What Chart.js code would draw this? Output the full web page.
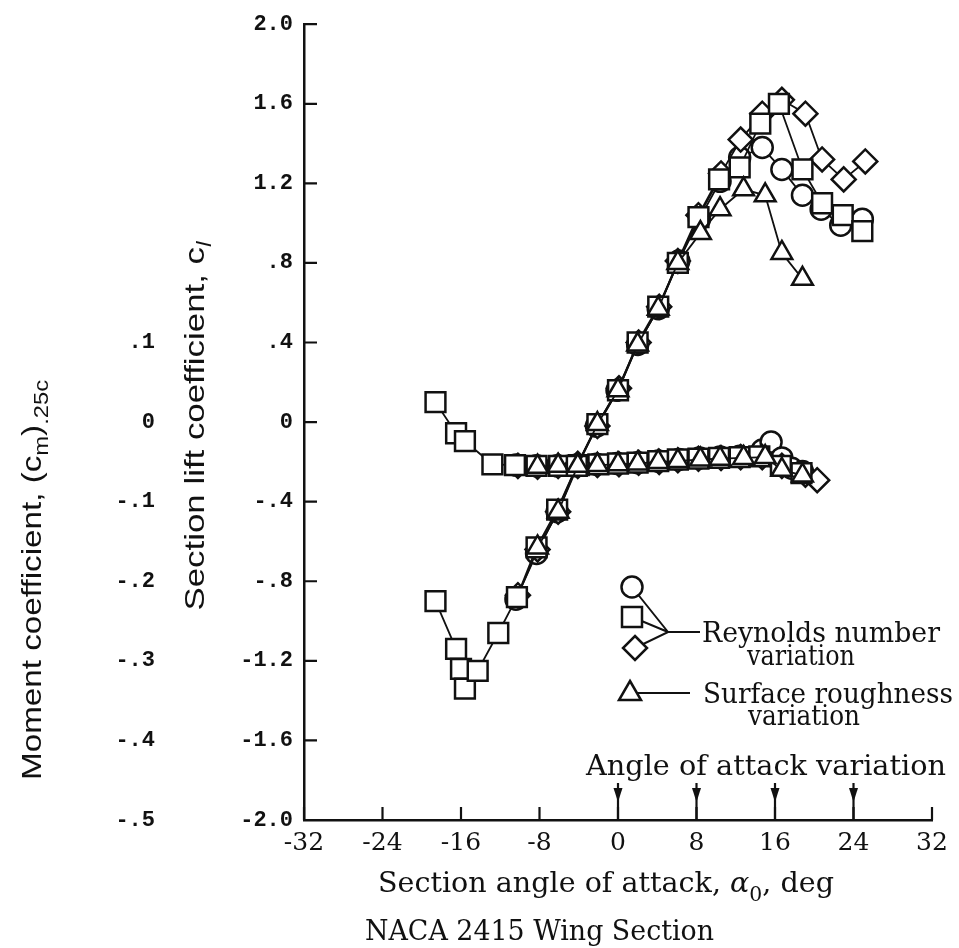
<!DOCTYPE html>
<html>
<head>
<meta charset="utf-8">
<script src="https://cdn.jsdelivr.net/npm/chart.js@4.4.1/dist/chart.umd.min.js"></script>
<style>
html, body { margin: 0; padding: 0; background: #fff; }
canvas { display: block; }
</style>
</head>
<body>
<canvas id="chart" width="959" height="948"></canvas>
<script>
// ---- data ----
// lift coefficient vs section angle of attack (deg)
const circleAlpha   = [-10.4, -8.3, -6.2, -4.2, -2.2, -0.1, 2.0, 4.1, 6.2, 8.3, 10.4, 12.4, 14.7, 16.7, 18.8, 20.7, 22.7, 24.9];
const circleLift    = [-0.89, -0.66, -0.45, -0.22, -0.02, 0.16, 0.39, 0.57, 0.81, 1.02, 1.21, 1.33, 1.38, 1.27, 1.14, 1.07, 0.99, 1.02];
const squareAlpha   = [-18.6, -16.5, -16.0, -15.6, -14.3, -12.2, -10.3, -8.3, -6.2, -4.2, -2.1, 0.0, 2.0, 4.1, 6.1, 8.2, 10.3, 12.4, 14.5, 16.4, 18.8, 20.8, 22.9, 24.9];
const squareLift    = [-0.90, -1.14, -1.24, -1.34, -1.25, -1.06, -0.88, -0.63, -0.44, -0.22, -0.01, 0.16, 0.40, 0.58, 0.80, 1.03, 1.22, 1.28, 1.50, 1.60, 1.27, 1.10, 1.04, 0.96];
const diamondAlpha  = [-10.2, -8.2, -6.1, -4.1, -2.1, 0.1, 2.1, 4.2, 6.1, 8.2, 10.5, 12.5, 14.7, 16.7, 19.1, 20.8, 23.0, 25.2];
const diamondLift   = [-0.87, -0.64, -0.45, -0.21, -0.02, 0.17, 0.40, 0.58, 0.81, 1.04, 1.25, 1.42, 1.55, 1.62, 1.55, 1.32, 1.22, 1.31];
const triangleAlpha = [-8.2, -6.1, -4.1, -2.1, 0.0, 2.0, 4.1, 6.1, 8.4, 10.4, 12.8, 15.0, 16.7, 18.8];
const triangleLift  = [-0.63, -0.45, -0.22, -0.01, 0.16, 0.39, 0.57, 0.80, 0.95, 1.07, 1.17, 1.14, 0.85, 0.72];

// quarter-chord moment coefficient vs angle of attack
const circleMomAlpha   = [-10.4, -8.3, -6.2, -4.2, -2.2, -0.1, 2.0, 4.1, 6.2, 8.3, 10.4, 12.4, 14.7, 15.6, 16.7, 17.7, 18.8];
const circleMoment     = [-0.054, -0.055, -0.055, -0.054, -0.053, -0.052, -0.051, -0.049, -0.047, -0.045, -0.044, -0.043, -0.035, -0.025, -0.045, -0.058, -0.062];
const squareMomAlpha   = [-18.6, -16.5, -15.6, -12.8, -10.5, -8.3, -6.0, -4.0, -2.0, 0.0, 2.0, 4.1, 6.1, 8.2, 10.3, 12.4, 14.4, 16.6, 18.7];
const squareMoment     = [0.025, -0.014, -0.024, -0.053, -0.054, -0.055, -0.055, -0.054, -0.053, -0.052, -0.051, -0.049, -0.047, -0.046, -0.045, -0.044, -0.043, -0.055, -0.064];
const diamondMomAlpha  = [-10.2, -8.2, -6.1, -4.1, -2.1, 0.1, 2.1, 4.2, 6.1, 8.2, 10.5, 12.5, 14.7, 16.7, 19.1, 20.3];
const diamondMoment    = [-0.055, -0.056, -0.055, -0.055, -0.054, -0.053, -0.051, -0.050, -0.048, -0.046, -0.045, -0.044, -0.044, -0.055, -0.066, -0.073];
const triangleMomAlpha = [-8.2, -6.1, -4.1, -2.1, 0.0, 2.0, 4.1, 6.1, 8.4, 10.4, 12.8, 15.0, 16.7, 18.8];
const triangleMoment   = [-0.056, -0.055, -0.055, -0.054, -0.053, -0.052, -0.050, -0.049, -0.047, -0.046, -0.045, -0.044, -0.060, -0.067];

// angles marked with arrows on the x axis
const arrowAngles = [0, 8, 16, 24];

const INK = '#111';
const mono = '"Liberation Mono", "DejaVu Sans Mono", monospace';
const serif = '"DejaVu Serif", "Liberation Serif", serif';
const sans = '"Liberation Sans", Arial, sans-serif';

function fmt(v) {
    const r = Math.round(v * 10) / 10;
    if (r === 0) return '0';
    let s = Math.abs(r).toFixed(1);
    if (Math.abs(r) < 1) s = s.slice(1);
    return (r < 0 ? '-' : '') + s;
}

function series(label, xs, ys, style, radius, axis) {
    return {
        label: label,
        data: xs.map((x, i) => ({ x: x, y: ys[i] })),
        yAxisID: axis,
        showLine: true,
        borderColor: INK,
        borderWidth: 1.8,
        pointStyle: style,
        pointRadius: radius,
        pointBorderWidth: 2.5,
        pointBackgroundColor: '#fff',
        pointBorderColor: INK,
        tension: 0,
    };
}

// text squeezed/stretched to a given span, optionally rotated
function richText(ctx, segs, cx, cy, span, rot) {
    ctx.save();
    ctx.translate(cx, cy);
    if (rot) ctx.rotate(rot);
    let w = 0;
    segs.forEach(s => { ctx.font = s.font; s.w = ctx.measureText(s.t).width; w += s.w; });
    ctx.scale(span / w, 1);
    ctx.fillStyle = INK;
    ctx.textAlign = 'left';
    ctx.textBaseline = 'alphabetic';
    let xx = -w / 2;
    segs.forEach(s => { ctx.font = s.font; ctx.fillText(s.t, xx, s.dy); xx += s.w; });
    ctx.restore();
}

function plain(ctx, t, x0, x1, cy) {
    richText(ctx, [{ t: t, font: '28px ' + serif, dy: 10 }], (x0 + x1) / 2, cy, x1 - x0, 0);
}

function marker(ctx, kind, x, y) {
    ctx.beginPath();
    if (kind === 'circle') ctx.arc(x, y, 10.5, 0, Math.PI * 2);
    if (kind === 'square') ctx.rect(x - 10, y - 10, 20, 20);
    if (kind === 'diamond') { ctx.moveTo(x, y - 12); ctx.lineTo(x + 12, y); ctx.lineTo(x, y + 12); ctx.lineTo(x - 12, y); ctx.closePath(); }
    if (kind === 'triangle') { ctx.moveTo(x, y - 12); ctx.lineTo(x + 11, y + 7); ctx.lineTo(x - 11, y + 7); ctx.closePath(); }
    ctx.fillStyle = '#fff';
    ctx.fill();
    ctx.stroke();
}

const decor = {
    id: 'decor',
    afterDraw(chart) {
        const { ctx, chartArea: a, scales: { x, y } } = chart;
        ctx.save();
        ctx.strokeStyle = INK;
        ctx.fillStyle = INK;

        // inward tick marks
        ctx.lineWidth = 2.2;
        ctx.beginPath();
        y.ticks.forEach((t, i) => { const p = y.getPixelForTick(i); ctx.moveTo(a.left, p); ctx.lineTo(a.left + 13, p); });
        x.ticks.forEach((t, i) => { const p = x.getPixelForTick(i); ctx.moveTo(p, a.bottom); ctx.lineTo(p, a.bottom - 13); });
        ctx.stroke();

        // angle of attack variation arrows
        arrowAngles.forEach(v => {
            const p = x.getPixelForValue(v);
            ctx.lineWidth = 2.2;
            ctx.beginPath();
            ctx.moveTo(p, a.bottom - 37);
            ctx.lineTo(p, a.bottom);
            ctx.stroke();
            ctx.beginPath();
            ctx.moveTo(p - 4.5, a.bottom - 32);
            ctx.lineTo(p + 4.5, a.bottom - 32);
            ctx.lineTo(p, a.bottom - 18);
            ctx.closePath();
            ctx.fill();
        });
        plain(ctx, 'Angle of attack variation', 586, 946, 765);

        // legend
        ctx.lineWidth = 2;
        ctx.beginPath();
        ctx.moveTo(632, 587); ctx.lineTo(668, 632);
        ctx.moveTo(632, 617); ctx.lineTo(668, 632);
        ctx.moveTo(635, 648); ctx.lineTo(668, 632);
        ctx.lineTo(700, 632);
        ctx.moveTo(630, 693); ctx.lineTo(690, 693);
        ctx.stroke();
        ctx.lineWidth = 2.5;
        marker(ctx, 'circle', 632, 587);
        marker(ctx, 'square', 632, 617);
        marker(ctx, 'diamond', 635, 648);
        marker(ctx, 'triangle', 630, 693);
        ctx.fillStyle = INK;
        plain(ctx, 'Reynolds number', 702, 940, 632);
        plain(ctx, 'variation', 747, 855, 655);
        plain(ctx, 'Surface roughness', 703, 953, 693);
        plain(ctx, 'variation', 748, 860, 715);

        // x axis title and caption
        richText(ctx, [
            { t: 'Section angle of attack, ', font: '28px ' + serif, dy: 10 },
            { t: 'α', font: 'italic 28px ' + serif, dy: 10 },
            { t: '0', font: '20px ' + serif, dy: 19 },
            { t: ', deg', font: '28px ' + serif, dy: 10 },
        ], 606, 882, 456, 0);
        plain(ctx, 'NACA 2415 Wing Section', 365, 714, 930);

        // rotated axis titles
        richText(ctx, [
            { t: 'Section lift coefficient, c', font: '28px ' + sans, dy: 10 },
            { t: 'l', font: 'italic 20px ' + sans, dy: 17 },
        ], 194, 426, 369, -Math.PI / 2);
        richText(ctx, [
            { t: 'Moment coefficient, (c', font: '28px ' + sans, dy: 10 },
            { t: 'm', font: '20px ' + sans, dy: 17 },
            { t: ')', font: '28px ' + sans, dy: 10 },
            { t: '.25c', font: '20px ' + sans, dy: 17 },
        ], 31, 580, 400, -Math.PI / 2);

        ctx.restore();
    }
};

const ctx = document.getElementById('chart').getContext('2d');
const chart = new Chart(ctx, {
    type: 'scatter',
    data: {
        // first dataset is painted last (on top)
        datasets: [
            series('triangle cl', triangleAlpha, triangleLift, 'triangle', 12, 'y'),
            series('square cl', squareAlpha, squareLift, 'rect', 14, 'y'),
            series('diamond cl', diamondAlpha, diamondLift, 'rectRot', 12, 'y'),
            series('circle cl', circleAlpha, circleLift, 'circle', 10.5, 'y'),
            series('triangle cm', triangleMomAlpha, triangleMoment, 'triangle', 12, 'ym'),
            series('square cm', squareMomAlpha, squareMoment, 'rect', 14, 'ym'),
            series('diamond cm', diamondMomAlpha, diamondMoment, 'rectRot', 12, 'ym'),
            series('circle cm', circleMomAlpha, circleMoment, 'circle', 10.5, 'ym'),
        ],
    },
    options: {
        responsive: false,
        animation: false,
        layout: { padding: { left: 0, right: 27, top: 22, bottom: 0 } },
        plugins: { legend: { display: false }, tooltip: { enabled: false }, title: { display: false } },
        scales: {
            x: {
                type: 'linear', position: 'bottom', min: -32, max: 32,
                ticks: { stepSize: 8, autoSkip: false, maxRotation: 0, color: INK, padding: 8, font: { family: serif, size: 25 } },
                grid: { drawOnChartArea: false, drawTicks: false },
                border: { display: true, color: INK, width: 2.5 },
                afterFit: s => { s.height = 128; },
            },
            y: {
                type: 'linear', position: 'left', min: -2, max: 2,
                ticks: { stepSize: 0.4, color: INK, padding: 11, font: { family: mono, size: 22, weight: 'bold' }, callback: v => fmt(v) },
                grid: { drawOnChartArea: false, drawTicks: false },
                border: { display: true, color: INK, width: 2.5 },
                afterFit: s => { s.width = 139; },
            },
            ym: {
                type: 'linear', position: 'left', weight: 1, min: -0.5, max: 0.5,
                ticks: { stepSize: 0.1, color: INK, padding: 10, font: { family: mono, size: 22, weight: 'bold' },
                         callback: v => (Math.round(v * 10) / 10 > 0.1 ? '' : fmt(v)) },
                grid: { display: false, drawTicks: false },
                border: { display: false },
                afterFit: s => { s.width = 165; },
            },
        },
    },
    plugins: [decor],
});
</script>
</body>
</html>
